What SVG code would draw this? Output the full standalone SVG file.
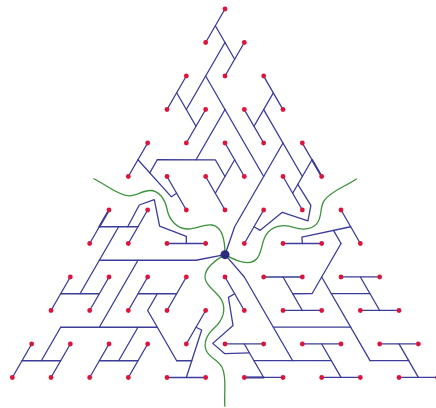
<svg xmlns="http://www.w3.org/2000/svg" width="436" height="408" viewBox="0 0 436 408">
<style>
.ln{fill:none;stroke:#3c3c9a;stroke-width:1.3;stroke-linecap:round;stroke-linejoin:round}
.gr{fill:none;stroke:#3a933a;stroke-width:1.3}
.dot{fill:#dc143c}
.hub{fill:#2b2b80}
</style>
<defs>
<path id="wall" class="gr" d="M93.3,178.5 C106,184.5 118,195.5 129,195.8 C137,196 142,190.5 150,190.5 C159,190.5 165,199 167,209 C169,220 177,228.5 187,229 C196,229.5 203,224 212,225 C222,226.5 225,238 225,254.67"/>
<g id="secA" class="ln">
<path d="M109,210 L89.67,243.5"/>
<path d="M109,210 L99.33,226.75" style="stroke-width:2"/>
<path d="M99.33,226.75 L138,226.75"/>
<path d="M118.67,226.75 L80,293.75"/>
<path d="M147.67,210 L128.33,243.5"/>
<path d="M127.7,226.75 L139.3,205 L154.3,199.7 L159.6,226.2 L186.33,236.3 L186.33,243.5"/>
<path d="M167,243.5 L205.67,243.5"/>
<path d="M99.33,260.25 L196,260.25 L225,254.67"/>
<path d="M70.33,277 L51,310.5"/>
<path d="M60.67,293.75 L99.33,293.75"/>
<path d="M109,277 L89.67,310.5"/>
<path d="M138,260.25 L99.33,327.25"/>
<path d="M147.67,277 L128.33,310.5"/>
<path d="M138,293.75 L176.67,293.75"/>
<path d="M186.33,277 L167,310.5"/>
<path d="M157.33,293.75 L147.67,310.5 L176.67,360.75"/>
<path d="M176.67,360.75 L191.75,360.75"/>
<path d="M205.67,310.5 L186.33,344"/>
<path d="M196,327.25 L201.7,330 L186.33,377.5"/>
<path d="M167,377.5 L205.67,377.5"/>
</g>
<g id="secB" class="ln">
<path d="M60.67,327.25 L157.33,327.25"/>
<path d="M60.67,327.25 L41.33,360.75"/>
<path d="M22,360.75 L60.67,360.75"/>
<path d="M31.67,344 L12.33,377.5"/>
<path d="M70.33,344 L51,377.5"/>
<path d="M138,327.25 L118.67,360.75"/>
<path d="M99.33,360.75 L138,360.75"/>
<path d="M109,344 L89.67,377.5"/>
<path d="M147.67,344 L128.33,377.5"/>
</g>
</defs>
<g id="boundaries">
<use href="#wall"/>
<use href="#wall" transform="rotate(120 225 254.667)"/>
<use href="#wall" transform="rotate(240 225 254.667)"/>
</g>
<g id="connectors">
<use href="#secA"/>
<use href="#secB"/>
<use href="#secA" transform="rotate(240 225 254.667)"/>
<use href="#secB" transform="rotate(240 225 254.667)"/>
<use href="#secA" transform="rotate(120 225 254.667)"/>
<g class="ln">
<path d="M225,9 L205.67,42.5"/>
<path d="M215.33,25.75 L234.67,59.25"/>
<path d="M244.33,42.5 L225,76"/>
<path d="M225,42.5 L186.33,109.5"/>
<path d="M186.33,76 L167,109.5"/>
<path d="M176.67,92.75 L196,126.25"/>
<path d="M205.67,109.5 L186.33,143"/>
<path d="M205.67,76 L225,109.5"/>
<path d="M225,109.5 L196,159.75"/>
</g>
</g>
<g id="nodes">
<g id="hub"><circle class="hub" cx="225" cy="254.67" r="4.5"/></g>
<g id="d0"><circle class="dot" cx="225" cy="9" r="2.4"/></g>
<g id="d2a"><circle class="dot" cx="205.67" cy="42.5" r="2.4"/></g>
<g id="d2b"><circle class="dot" cx="244.33" cy="42.5" r="2.4"/></g>
<g id="d4a"><circle class="dot" cx="186.33" cy="76" r="2.4"/></g>
<g id="d4b"><circle class="dot" cx="225" cy="76" r="2.4"/></g>
<g id="d4c"><circle class="dot" cx="263.67" cy="76" r="2.4"/></g>
<g id="d6a"><circle class="dot" cx="167" cy="109.5" r="2.4"/></g>
<g id="d6b"><circle class="dot" cx="205.67" cy="109.5" r="2.4"/></g>
<g id="d6c"><circle class="dot" cx="244.33" cy="109.5" r="2.4"/></g>
<g id="d6d"><circle class="dot" cx="283" cy="109.5" r="2.4"/></g>
<g id="d8a"><circle class="dot" cx="147.67" cy="143" r="2.4"/></g>
<g id="d8b"><circle class="dot" cx="186.33" cy="143" r="2.4"/></g>
<g id="d8c"><circle class="dot" cx="225" cy="143" r="2.4"/></g>
<g id="d8d"><circle class="dot" cx="263.67" cy="143" r="2.4"/></g>
<g id="d8e"><circle class="dot" cx="302.33" cy="143" r="2.4"/></g>
<g id="d10a"><circle class="dot" cx="128.33" cy="176.5" r="2.4"/></g>
<g id="d10b"><circle class="dot" cx="167" cy="176.5" r="2.4"/></g>
<g id="d10c"><circle class="dot" cx="205.67" cy="176.5" r="2.4"/></g>
<g id="d10d"><circle class="dot" cx="244.33" cy="176.5" r="2.4"/></g>
<g id="d10e"><circle class="dot" cx="283" cy="176.5" r="2.4"/></g>
<g id="d10f"><circle class="dot" cx="321.67" cy="176.5" r="2.4"/></g>
<g id="d12a"><circle class="dot" cx="109" cy="210" r="2.4"/></g>
<g id="d12b"><circle class="dot" cx="147.67" cy="210" r="2.4"/></g>
<g id="d12c"><circle class="dot" cx="186.33" cy="210" r="2.4"/></g>
<g id="d12d"><circle class="dot" cx="225" cy="210" r="2.4"/></g>
<g id="d12e"><circle class="dot" cx="263.67" cy="210" r="2.4"/></g>
<g id="d12f"><circle class="dot" cx="302.33" cy="210" r="2.4"/></g>
<g id="d12g"><circle class="dot" cx="341" cy="210" r="2.4"/></g>
<g id="d14a"><circle class="dot" cx="89.67" cy="243.5" r="2.4"/></g>
<g id="d14b"><circle class="dot" cx="128.33" cy="243.5" r="2.4"/></g>
<g id="d14c"><circle class="dot" cx="167" cy="243.5" r="2.4"/></g>
<g id="d14d"><circle class="dot" cx="205.67" cy="243.5" r="2.4"/></g>
<g id="d14e"><circle class="dot" cx="244.33" cy="243.5" r="2.4"/></g>
<g id="d14f"><circle class="dot" cx="283" cy="243.5" r="2.4"/></g>
<g id="d14g"><circle class="dot" cx="321.67" cy="243.5" r="2.4"/></g>
<g id="d14h"><circle class="dot" cx="360.33" cy="243.5" r="2.4"/></g>
<g id="d16a"><circle class="dot" cx="70.33" cy="277" r="2.4"/></g>
<g id="d16b"><circle class="dot" cx="109" cy="277" r="2.4"/></g>
<g id="d16c"><circle class="dot" cx="147.67" cy="277" r="2.4"/></g>
<g id="d16d"><circle class="dot" cx="186.33" cy="277" r="2.4"/></g>
<g id="d16e"><circle class="dot" cx="225" cy="277" r="2.4"/></g>
<g id="d16f"><circle class="dot" cx="263.67" cy="277" r="2.4"/></g>
<g id="d16g"><circle class="dot" cx="302.33" cy="277" r="2.4"/></g>
<g id="d16h"><circle class="dot" cx="341" cy="277" r="2.4"/></g>
<g id="d16i"><circle class="dot" cx="379.67" cy="277" r="2.4"/></g>
<g id="d18a"><circle class="dot" cx="51" cy="310.5" r="2.4"/></g>
<g id="d18b"><circle class="dot" cx="89.67" cy="310.5" r="2.4"/></g>
<g id="d18c"><circle class="dot" cx="128.33" cy="310.5" r="2.4"/></g>
<g id="d18d"><circle class="dot" cx="167" cy="310.5" r="2.4"/></g>
<g id="d18e"><circle class="dot" cx="205.67" cy="310.5" r="2.4"/></g>
<g id="d18f"><circle class="dot" cx="244.33" cy="310.5" r="2.4"/></g>
<g id="d18g"><circle class="dot" cx="283" cy="310.5" r="2.4"/></g>
<g id="d18h"><circle class="dot" cx="321.67" cy="310.5" r="2.4"/></g>
<g id="d18i"><circle class="dot" cx="360.33" cy="310.5" r="2.4"/></g>
<g id="d18j"><circle class="dot" cx="399" cy="310.5" r="2.4"/></g>
<g id="d20a"><circle class="dot" cx="31.67" cy="344" r="2.4"/></g>
<g id="d20b"><circle class="dot" cx="70.33" cy="344" r="2.4"/></g>
<g id="d20c"><circle class="dot" cx="109" cy="344" r="2.4"/></g>
<g id="d20d"><circle class="dot" cx="147.67" cy="344" r="2.4"/></g>
<g id="d20e"><circle class="dot" cx="186.33" cy="344" r="2.4"/></g>
<g id="d20f"><circle class="dot" cx="225" cy="344" r="2.4"/></g>
<g id="d20g"><circle class="dot" cx="263.67" cy="344" r="2.4"/></g>
<g id="d20h"><circle class="dot" cx="302.33" cy="344" r="2.4"/></g>
<g id="d20i"><circle class="dot" cx="341" cy="344" r="2.4"/></g>
<g id="d20j"><circle class="dot" cx="379.67" cy="344" r="2.4"/></g>
<g id="d20k"><circle class="dot" cx="418.33" cy="344" r="2.4"/></g>
<g id="d22a"><circle class="dot" cx="12.33" cy="377.5" r="2.4"/></g>
<g id="d22b"><circle class="dot" cx="51" cy="377.5" r="2.4"/></g>
<g id="d22c"><circle class="dot" cx="89.67" cy="377.5" r="2.4"/></g>
<g id="d22d"><circle class="dot" cx="128.33" cy="377.5" r="2.4"/></g>
<g id="d22e"><circle class="dot" cx="167" cy="377.5" r="2.4"/></g>
<g id="d22f"><circle class="dot" cx="205.67" cy="377.5" r="2.4"/></g>
<g id="d22g"><circle class="dot" cx="244.33" cy="377.5" r="2.4"/></g>
<g id="d22h"><circle class="dot" cx="283" cy="377.5" r="2.4"/></g>
<g id="d22i"><circle class="dot" cx="321.67" cy="377.5" r="2.4"/></g>
<g id="d22j"><circle class="dot" cx="360.33" cy="377.5" r="2.4"/></g>
<g id="d22k"><circle class="dot" cx="399" cy="377.5" r="2.4"/></g>
<g id="d22l"><circle class="dot" cx="437.67" cy="377.5" r="2.4"/></g>
</g>
</svg>
